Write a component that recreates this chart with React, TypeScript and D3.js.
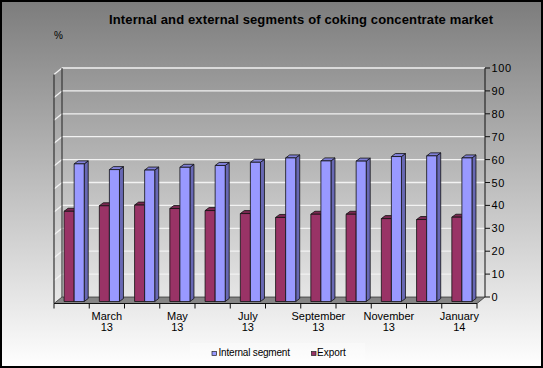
import React from 'react';
import * as d3 from 'd3';

const months = ['February', 'March', 'April', 'May', 'June', 'July', 'August', 'September', 'October', 'November', 'December', 'January'];
const years = ['13', '13', '13', '13', '13', '13', '13', '13', '13', '13', '13', '14'];
const internalSegment = [60.1, 57.6, 57.4, 58.6, 59.4, 60.8, 62.7, 61.4, 61.3, 63.3, 63.6, 62.7];
const exportShare = [39.4, 41.8, 42.1, 40.6, 39.7, 38.4, 36.7, 38.1, 38.1, 36.2, 35.8, 36.8];
const yTicks = [0, 10, 20, 30, 40, 50, 60, 70, 80, 90, 100];

const W = 543;
const H = 368;
// oblique depth of the plot box
const DX = 8;
const DY = 6.5;
// depth offset of a bar's side/top face
const BDX = 4;
const BDY = 3;

const App: React.FC = () => {
    const cats = months.map((m, i) => `${m} ${years[i]}`);

    // front plane scale for categories
    const x = d3.scaleBand<string>().domain(cats).range([54, 477]).padding(0);
    const bw = x.bandwidth();
    const xSub = d3.scaleBand<string>().domain(['Export', 'Internal']).range([bw * 0.286, bw * 0.857]).padding(0);

    // back wall scale (gridlines, axis) and bar scale (bars stand slightly in front)
    const yBack = d3.scaleLinear().domain([0, 100]).range([297, 68]);
    const yBar = d3.scaleLinear().domain([0, 100]).range([301.5, 72.5]);

    const xL = 54;
    const xR = 477;
    const yFront0 = yBack(0) + DY;

    const bar = (cx: number, w: number, v: number, front: string, side: string, top: string, key: string) => {
        const y0 = yBar(0);
        const y1 = yBar(v);
        return (
            <g key={key} stroke="#111" strokeWidth={0.8} strokeLinejoin="round">
                <polygon points={`${cx + w},${y1} ${cx + w + BDX},${y1 - BDY} ${cx + w + BDX},${y0 - BDY} ${cx + w},${y0}`} fill={side} />
                <polygon points={`${cx},${y1} ${cx + BDX},${y1 - BDY} ${cx + w + BDX},${y1 - BDY} ${cx + w},${y1}`} fill={top} />
                <rect x={cx} y={y1} width={w} height={y0 - y1} fill={front} />
            </g>
        );
    };

    return (
        <svg width={W} height={H} style={{ position: 'absolute', left: 0, top: 0 }} fontFamily="'Liberation Sans', Arial, sans-serif">
            <defs>
                <linearGradient id="bg" x1="0" y1="0" x2="0" y2="1">
                    <stop offset="0" stopColor="#7c7c7c" />
                    <stop offset="1" stopColor="#ffffff" />
                </linearGradient>
            </defs>
            <rect x={0} y={0} width={W} height={H} fill="url(#bg)" />

            {/* title */}
            <text x={109} y={24} fontSize={13} fontWeight="bold" textLength={384} lengthAdjust="spacing">
                Internal and external segments of coking concentrate market
            </text>
            <text x={54} y={39} fontSize={10}>%</text>

            {/* gridlines on back wall and left wall */}
            {yTicks.map(v => (
                <g key={`g${v}`} stroke="#f2f2f2" strokeWidth={1.3}>
                    <line x1={xL + DX} x2={xR + DX} y1={yBack(v)} y2={yBack(v)} />
                    <line x1={xL} x2={xL + DX} y1={yBack(v) + DY} y2={yBack(v)} />
                </g>
            ))}
            <line x1={xL} x2={xL} y1={yBack(100) + DY} y2={yFront0} stroke="#333" strokeWidth={1.2} />
            <line x1={xL + DX} x2={xL + DX} y1={yBack(100)} y2={yBack(0)} stroke="#222" strokeWidth={1} />

            {/* floor */}
            <polygon
                points={`${xL},${yFront0} ${xR},${yFront0} ${xR + DX},${yBack(0)} ${xL + DX},${yBack(0)}`}
                fill="#858585"
                stroke="#333"
                strokeWidth={0.8}
            />

            {/* bars */}
            {cats.map((c, i) => {
                const x0 = x(c)!;
                return (
                    <g key={c}>
                        {bar(x0 + xSub('Export')!, xSub.bandwidth(), exportShare[i], '#993366', '#6b2347', '#7a2952', `e${i}`)}
                        {bar(x0 + xSub('Internal')!, xSub.bandwidth(), internalSegment[i], '#9999ff', '#6868b4', '#8080d8', `n${i}`)}
                    </g>
                );
            })}

            {/* right value axis */}
            <line x1={xR + DX} x2={xR + DX} y1={yBack(100)} y2={yBack(0)} stroke="#111" strokeWidth={1} />
            {yTicks.map(v => (
                <g key={`t${v}`}>
                    <line x1={xR + DX} x2={xR + DX + 5} y1={yBack(v)} y2={yBack(v)} stroke="#111" />
                    <text x={491.5} y={yBack(v) + 4} fontSize={11} letterSpacing={0.6}>{v}</text>
                </g>
            ))}

            {/* category axis */}
            <line x1={xL} x2={xR} y1={yFront0} y2={yFront0} stroke="#111" strokeWidth={1} />
            {[...cats.map(c => x(c)!), xR].map((tx, i) => (
                <line key={`ct${i}`} x1={tx} x2={tx} y1={yFront0} y2={yFront0 + 5} stroke="#111" />
            ))}
            {cats.map((c, i) => i % 2 === 1 ? (
                <text key={`cl${i}`} x={x(c)! + bw / 2} textAnchor="middle" fontSize={11}>
                    <tspan x={x(c)! + bw / 2} y={319.5}>{months[i]}</tspan>
                    <tspan x={x(c)! + bw / 2} y={331}>{years[i]}</tspan>
                </text>
            ) : null)}

            {/* legend */}
            <rect x={190} y={343} width={175} height={23} fill="#ffffff" opacity={0.3} />
            <rect x={212} y={351.5} width={4.5} height={4} fill="#9999ff" stroke="#222" strokeWidth={0.7} />
            <text x={218.5} y={356} fontSize={10} letterSpacing={-0.2}>Internal segment</text>
            <rect x={311.5} y={351.5} width={4.5} height={4} fill="#993366" stroke="#222" strokeWidth={0.7} />
            <text x={317} y={356} fontSize={10}>Export</text>

            <rect x={1} y={1} width={W - 2} height={H - 2} fill="none" stroke="#000" strokeWidth={2} />
        </svg>
    );
};

export default App;
